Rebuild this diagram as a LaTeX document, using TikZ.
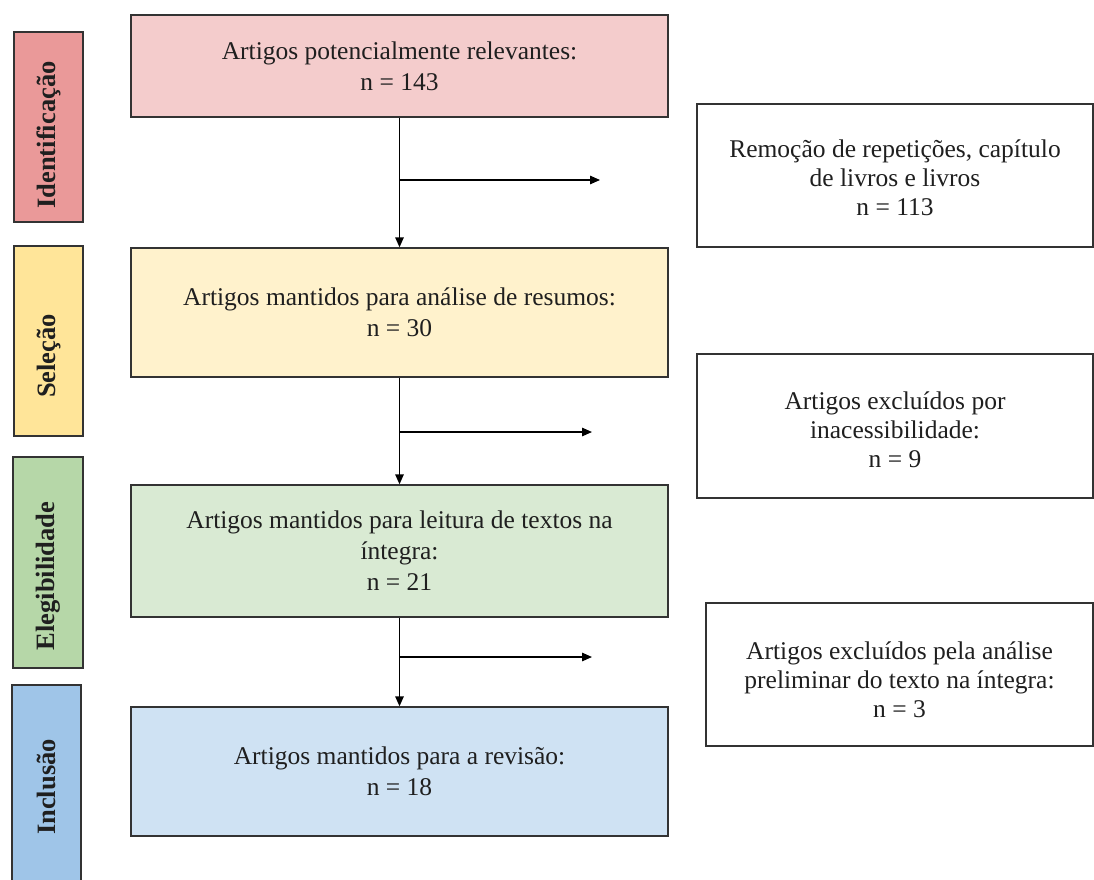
\documentclass[tikz,border=0pt]{standalone}
\usepackage{fontspec}
\setmainfont{Liberation Serif}
\usetikzlibrary{arrows.meta}
\definecolor{redL}{HTML}{F4CCCC}
\definecolor{redM}{HTML}{EA9999}
\definecolor{yelL}{HTML}{FFF2CC}
\definecolor{yelM}{HTML}{FFE599}
\definecolor{grnL}{HTML}{D9EAD3}
\definecolor{grnM}{HTML}{B6D7A8}
\definecolor{bluL}{HTML}{CFE2F3}
\definecolor{bluM}{HTML}{9FC5E8}
\definecolor{edge}{HTML}{333333}
\newcommand\lowtxt[2]{\raisebox{-#1}[\height][\depth]{\begin{tabular}{@{}c@{}}#2\end{tabular}}}
\tikzset{
  boxstyle/.style={draw=edge, line width=1.4pt, inner sep=0pt, align=center,
    font=\fontsize{25.5}{31}\selectfont, text=black!88},
  exclbox/.style={draw=edge, line width=1.4pt, inner sep=0pt, fill=white,
    font=\fontsize{25.5}{29}\selectfont, text=black!88},
  sidebox/.style={draw=edge, line width=1.4pt, inner sep=0pt},
  sidetext/.style={rotate=90, font=\fontsize{26.5}{30}\selectfont\bfseries, text=black!88, inner sep=0pt},
  arr/.style={draw=black, line width=1.4pt, -{Triangle[length=10pt,width=8.5pt]}}
}
\begin{document}
\begin{tikzpicture}[x=1pt,y=-1pt]
\useasboundingbox (0,0) rectangle (1094,880);
% side stage boxes
\node[sidebox, fill=redM, minimum width=69pt, minimum height=190pt] (s1) at (48.5,127) {};
\node[sidebox, fill=yelM, minimum width=69pt, minimum height=190pt] (s2) at (48.5,341) {};
\node[sidebox, fill=grnM, minimum width=70pt, minimum height=211pt] (s3) at (48,562.5) {};
\node[sidebox, fill=bluM, minimum width=69pt, minimum height=204pt] (s4) at (46.5,787) {};
\node[sidetext] (t1) at (48.5,135) {Identificação};
\node[sidetext] (t2) at (48.5,356) {Seleção};
\node[sidetext] (t3) at (48,576) {Elegibilidade};
\node[sidetext] (t4) at (46.5,787) {Inclusão};
% main boxes
\node[boxstyle, fill=redL, minimum width=537pt, minimum height=102pt] (b1) at (399.5,66)
  {Artigos potencialmente relevantes:\\n = 143};
\node[boxstyle, fill=yelL, minimum width=537pt, minimum height=129pt] (b2) at (399.5,312.5)
  {Artigos mantidos para análise de resumos:\\n = 30};
\node[boxstyle, fill=grnL, minimum width=537pt, minimum height=132pt] (b3) at (399.5,551)
  {Artigos mantidos para leitura de textos na\\íntegra:\\n = 21};
\node[boxstyle, fill=bluL, minimum width=537pt, minimum height=129pt] (b4) at (399.5,771.5)
  {Artigos mantidos para a revisão:\\n = 18};
% exclusion boxes
\node[exclbox, minimum width=396pt, minimum height=143pt] (r1) at (895,175.5)
  {\lowtxt{5pt}{Remoção de repetições, capítulo\\de livros e livros\\n = 113}};
\node[exclbox, minimum width=396pt, minimum height=144pt] (r2) at (895,426)
  {\lowtxt{7pt}{Artigos excluídos por\\inacessibilidade:\\n = 9}};
\node[exclbox, minimum width=387pt, minimum height=143pt] (r3) at (899.5,674.5)
  {\lowtxt{8pt}{Artigos excluídos pela análise\\preliminar do texto na íntegra:\\n = 3}};
% connectors
\coordinate (e1) at (600,180);
\coordinate (e2) at (592,432);
\coordinate (e3) at (592,657);
\draw[arr] (b1.south) -- (b2.north);
\draw[arr] (b1.south |- e1) -- (e1);
\draw[arr] (b2.south) -- (b3.north);
\draw[arr] (b2.south |- e2) -- (e2);
\draw[arr] (b3.south) -- (b4.north);
\draw[arr] (b3.south |- e3) -- (e3);
\end{tikzpicture}
\end{document}
